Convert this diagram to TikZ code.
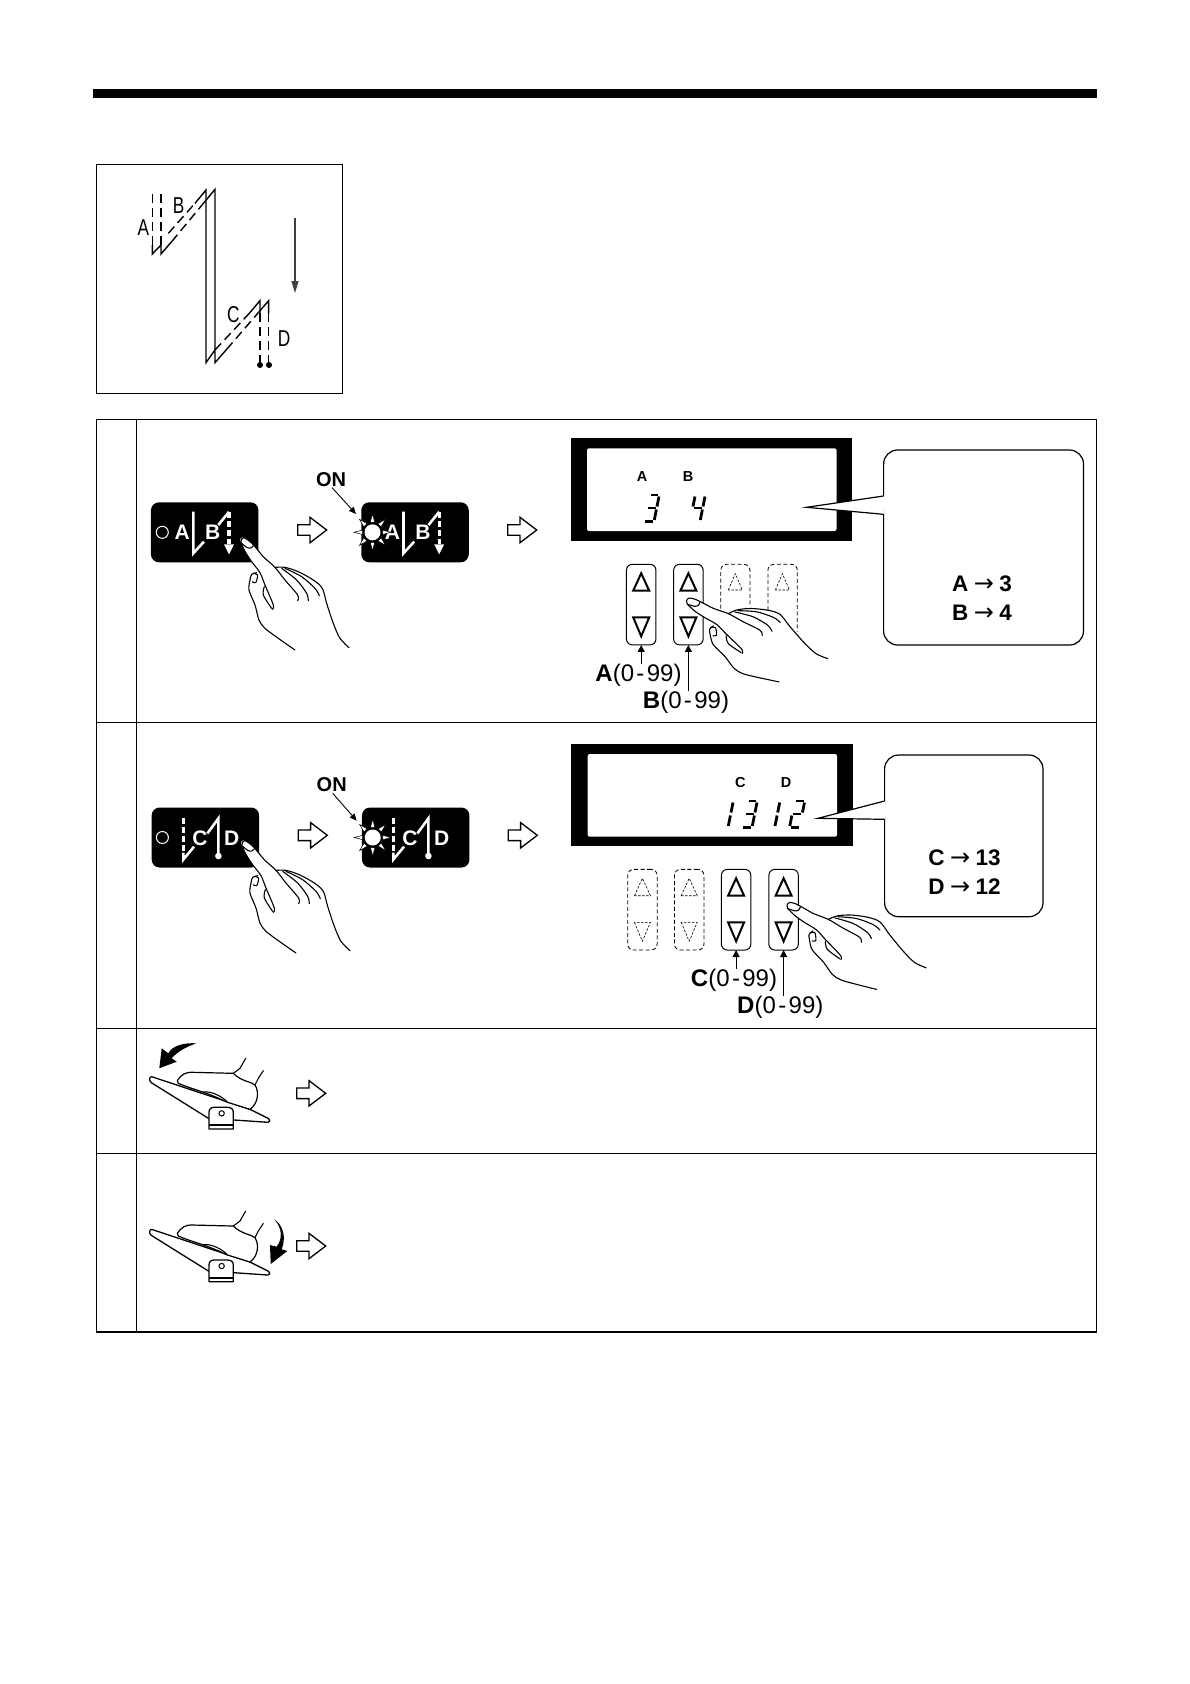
\documentclass[tikz,border=0pt]{standalone}
\usepackage{fontspec}
\setmainfont{Liberation Sans}
\newfontfamily\arrowfont{DejaVu Sans}
\usetikzlibrary{arrows.meta}
\tikzset{
  rule/.style={draw=black,line width=1.2pt},
  panel/.style={fill=black,draw=none,rounded corners=8pt,minimum width=107.5pt,minimum height=60pt,inner sep=0pt,outer sep=0pt},
  plet/.style={font=\bfseries\fontsize{21}{21}\selectfont,text=white,inner sep=0pt},
  wline/.style={draw=white,line width=2.6pt},
  wdash/.style={draw=white,line width=3.2pt,dash pattern=on 6pt off 3pt},
  onlab/.style={font=\bfseries\fontsize{20}{20}\selectfont,inner sep=0pt},
  btn/.style={draw=black,line width=1pt,rounded corners=6pt,minimum width=29.5pt,minimum height=80.7pt,inner sep=0pt,outer sep=0pt},
  dbtn/.style={btn,dash pattern=on 4pt off 2.5pt,line width=.8pt},
  tri/.style={draw=black,line width=2pt,line join=miter},
  dtri/.style={draw=black,line width=.6pt,dash pattern=on 2.5pt off 1.5pt},
  lead/.style={draw=black,line width=1pt,-{Triangle[length=7pt,width=7pt]}},
  rangelab/.style={font=\fontsize{24}{24}\selectfont,inner sep=0pt},
  mini/.style={font=\bfseries\fontsize{14.5}{14.5}\selectfont,inner sep=0pt},
  cal/.style={font=\fontsize{22.5}{22.5}\selectfont,inner sep=0pt},
  stlab/.style={font=\fontsize{23}{23}\selectfont,xscale=.75,transform shape,inner sep=0pt},
  seg/.style={line width=2.8pt},
  handl/.style={draw=black,line width=1.1pt,line cap=round,line join=round},
  opena/.style={draw=black,fill=white,line width=1.3pt,line join=miter},
  cout/.style={draw=black,fill=white,line width=1.2pt},
  stit/.style={draw=black,line width=1.4pt,line join=miter},
  stitd/.style={stit,dash pattern=on 9pt off 5pt},
}
\newcommand\calarrow{\hspace{.24em}{\arrowfont\fontsize{24}{24}\selectfont →}\hspace{.24em}}
\newcommand\openarrow[2]{\draw[opena,shift={(#1,#2)}] (0,-5.3) -- (12.3,-5.3) -- (12.3,-12.7) -- (29,0) -- (12.3,12.7) -- (12.3,5.3) -- (0,5.3) -- cycle;}
\newcommand\drawhand[3]{%
\begin{scope}[shift={(#1,#2)},rotate=#3,x=.3333pt,y=-.3333pt]
\begin{scope}[shift={(-18,-35)}]
\fill[white] plot[smooth cycle] coordinates {(22,22)(60,50)(120,112)(190,125)(262,175)(295,280)(342,353)(180,360)(90,295)(60,225)(42,180)(48,140)(65,128)(50,95)(18,38)};
\draw[handl] plot[smooth] coordinates {(18,38)(20,27)(30,23)(45,33)(60,50)(85,80)(120,112)(150,150)(188,195)(188,212)};
\draw[handl] plot[smooth] coordinates {(120,112)(150,112)(190,125)(235,150)(262,175)(275,220)(295,280)(315,325)(342,353)};
\draw[handl] plot[smooth] coordinates {(140,115)(185,150)(215,190)(220,212)};
\draw[handl] plot[smooth] coordinates {(150,115)(200,140)(240,175)(253,197)};
\draw[handl] plot[smooth] coordinates {(18,38)(30,65)(50,95)(75,128)(90,165)(115,225)(112,238)};
\draw[handl] plot[smooth] coordinates {(18,38)(35,52)(47,54)(55,47)};
\draw[handl] plot[smooth] coordinates {(65,128)(50,133)(45,150)(42,180)(60,225)(72,270)(90,295)(130,325)(180,360)};
\draw[handl] plot[smooth] coordinates {(88,170)(85,195)(110,235)};
\draw[handl] plot[smooth] coordinates {(55,130)(68,135)(62,158)(52,155)};
\end{scope}\end{scope}}
\newcommand\sunlamp[2]{%
\begin{scope}[shift={(#1,#2)}]
\foreach \a in {0,45,...,315}{
 \draw[black,fill=white,line width=.5pt,rotate=\a] (10,-2.2) -- (18.5,0) -- (10,2.2) -- cycle;}
\fill[white] (0,0) circle (8);
\end{scope}}
\newcommand\sA{\draw[seg] (2.2,1) -- (10,1);}
\newcommand\sB{\draw[seg] (11,2.5) -- (11,12.5);}
\newcommand\sC{\draw[seg] (11,15.5) -- (11,26);}
\newcommand\sD{\draw[seg] (2.2,27.2) -- (10,27.2);}
\newcommand\sE{\draw[seg] (1,15.5) -- (1,26);}
\newcommand\sF{\draw[seg] (1,2.5) -- (1,12.5);}
\newcommand\sG{\draw[seg] (2.2,14) -- (10,14);}
\newcommand\digitat[3]{\begin{scope}[shift={(#1,#2)},xslant=.2]#3\end{scope}}
\newcommand\abcontent[2]{%
\begin{scope}[shift={(#1,#2)}]
\draw[wline,line join=miter] (42.3,9.3) -- (42.3,51) -- (53,39.3);
\node[plet] at (31.3,30) {A};
\node[plet] at (61.7,30) {B};
\draw[wline,line cap=butt] (67.3,22.7) -- (78,9.5);
\draw[wdash] (78,9.5) -- (78,42);
\fill[white] (73,42) -- (83,42) -- (78,52) -- cycle;
\end{scope}}
\newcommand\cdcontent[2]{%
\begin{scope}[shift={(#1,#2)}]
\draw[wdash] (31.7,10.7) -- (31.7,45);
\draw[wline] (31.7,45) -- (31.7,51.7) -- (42.3,39);
\node[plet] at (48.3,31) {C};
\draw[wline,line join=miter] (55.7,25.7) -- (66.7,10.7) -- (66.7,48);
\fill[white] (66.7,48.3) circle (3.3);
\node[plet] at (80,31) {D};
\end{scope}}
\newcommand\bttri[3]{%
\draw[#3] (#1-8,#2+26.4) -- (#1,#2+9) -- (#1+8,#2+26.4) -- cycle;
\draw[#3] (#1-8,#2+53) -- (#1,#2+72) -- (#1+8,#2+53) -- cycle;}
\newcommand\pedal[2]{%
\begin{scope}[shift={(#1,#2)},x=.3333pt,y=-.3333pt]
\draw[handl,line width=1.3pt,fill=white] (35,110) -- (330,208) -- (386,236) .. controls (392,240) and (390,247) .. (384,247) -- (282,240) -- (207,236) -- (34,128) .. controls (26,122) and (28,110) .. (35,110) -- cycle;
\draw[handl,line width=1.2pt,fill=white] (112,122) .. controls (125,103) and (135,96) .. (160,97) -- (280,100) .. controls (305,125) and (335,125) .. (345,135) .. controls (358,155) and (355,190) .. (330,208) -- (260,186) .. controls (200,156) and (150,146) .. (115,130) -- cycle;
\draw[handl] (190,156) .. controls (215,152) and (250,172) .. (262,186);
\draw[handl] (280,100) -- (300,85) -- (317,55);
\draw[handl] (345,135) -- (355,115) -- (370,92);
\draw[handl,line width=1.3pt,fill=white] (207,267) -- (207,218) .. controls (207,208) and (212,202) .. (222,202) -- (262,202) .. controls (275,202) and (280,208) .. (280,218) -- (280,267) -- cycle;
\draw[black,line width=2pt] (208,256) -- (279,256);
\draw[black,line width=1pt,fill=white] (245,220) circle (8);
\end{scope}}
\begin{document}
\begin{tikzpicture}[x=1pt,y=-1pt]
\useasboundingbox (0,0) rectangle (1190,1684);
\fill[white] (0,0) rectangle (1190,1684);
\fill[black] (93.3,89.3) rectangle (1096.7,98.3);
\draw[rule] (96.7,164.7) rectangle (342.7,393.5);
\begin{scope}[shift={(80,150)},x=.3333pt,y=-.3333pt]
\draw[stitd] (217,132) -- (217,285);
\draw[stitd] (243,132) -- (243,285);
\draw[stit] (217,285) -- (217,312) -- (243,285) -- (243,312) -- (275,275);
\draw[stitd] (265,250) -- (345,160);
\draw[stitd] (275,275) -- (372,158);
\draw[stit] (345,160) -- (378,120) -- (378,638) -- (405,600) -- (405,638) -- (440,598);
\draw[stit] (372,158) -- (405,118) -- (405,600);
\draw[stitd] (405,600) -- (508,490);
\draw[stitd] (440,598) -- (535,488);
\draw[stit] (508,490) -- (540,452) -- (540,490);
\draw[stit] (535,488) -- (566,452) -- (566,490);
\draw[stitd] (540,490) -- (540,640);
\draw[stitd] (566,490) -- (566,640);
\fill[black] (540,645) circle (9);
\fill[black] (567,645) circle (9);
\end{scope}
\node[stlab] (sa) at (143.3,227.3) {A};
\node[stlab] (sb) at (178.7,205.7) {B};
\node[stlab] (sc) at (233.3,315) {C};
\node[stlab] (sd) at (284,338.7) {D};
\coordinate (fa) at (295,218);
\coordinate (fb) at (295,293);
\draw[black!75,line width=1.1pt,-{Triangle[length=12pt,width=7pt]}] (fa) -- (fb);
\draw[rule] (96.5,419.5) rectangle (1096.7,1332);
\draw[rule] (136.7,419.5) -- (136.7,1332);
\draw[rule] (96.5,722.3) -- (1096.7,722.3);
\draw[rule] (96.5,1028.3) -- (1096.7,1028.3);
\draw[rule] (96.5,1153.7) -- (1096.7,1153.7);
%% ROW 1
\node[panel] (p1) at (204.7,532.3) {};
\node[panel] (p2) at (415,532.3) {};
\draw[white,line width=1pt] (162.3,532.3) circle (6);
\abcontent{151}{502.3}
\abcontent{361.2}{502.3}
\sunlamp{372.5}{532.3}
\node[onlab] (on1) at (331,479.3) {ON};
\coordinate (on1t) at (356,514);
\draw[black,line width=.9pt,-{Triangle[length=7pt,width=6pt]}] (on1.south) ++(1,1) -- (on1t);
\openarrow{297.7}{530}
\openarrow{507.7}{530}
\drawhand{241}{541.7}{0}
\fill[black] (571,438.3) rectangle (852,540.7);
\fill[white,rounded corners=2pt] (587,448.3) rectangle (836.5,531);
\node[mini] at (642,477) {A};
\node[mini] at (688,477) {B};
\digitat{648.5}{494}{\sA\sB\sC\sD\sG}
\digitat{694.5}{494}{\sB\sC\sF\sG}
\draw[cout,rounded corners=14pt] (883.6,500) -- (883.6,450) -- (1083.5,450) -- (1083.5,645) -- (883.6,645) -- (883.6,510);
\fill[white] (806.5,507.3) -- (883.6,496) -- (884.4,496) -- (884.4,514.3) -- (883.6,514.3) -- cycle;
\draw[black,line width=1.2pt] (883.6,496) -- (806.5,507.3) -- (883.6,514.3);
\node[cal] at (982,584) {\textbf{A}\calarrow\textbf{3}};
\node[cal] at (982,612.7) {\textbf{B}\calarrow\textbf{4}};
\node[btn] (b1) at (641.2,604.6) {};
\node[btn] (b2) at (688.4,604.6) {};
\bttri{641.2}{564.3}{tri}
\bttri{688.4}{564.3}{tri}
\draw[dbtn,rounded corners=6pt] (720.8,615) -- (720.8,564.3) -- (749.9,564.3) -- (749.9,606.7);
\draw[dbtn,rounded corners=6pt] (767.9,610) -- (767.9,564.3) -- (797.3,564.3) -- (797.3,631.7);
\draw[dtri] (728.3,590) -- (735.3,573.7) -- (742.3,590) -- cycle;
\draw[dtri] (775.4,590) -- (782.4,573.7) -- (789.4,590) -- cycle;
\drawhand{687}{603.3}{23}
\node[rangelab] (la) at (638.5,675.3) {\textbf{A}(0\hspace{.1em}-\hspace{.1em}99)};
\node[rangelab] (lb) at (686,702) {\textbf{B}(0\hspace{.1em}-\hspace{.1em}99)};
\draw[lead] (b1.south |- la.north) -- (b1.south);
\draw[lead] (b2.south |- lb.north) -- (b2.south);
%% ROW 2
\node[panel] (p3) at (205.4,837.5) {};
\node[panel] (p4) at (415.7,837.5) {};
\draw[white,line width=1pt] (162.4,837.5) circle (6);
\cdcontent{151.7}{807.7}
\cdcontent{361.7}{807.7}
\sunlamp{372.7}{837.5}
\node[onlab] (on2) at (331.7,785) {ON};
\coordinate (on2t) at (356.7,820.7);
\draw[black,line width=.9pt,-{Triangle[length=7pt,width=6pt]}] (on2.south) ++(1,1) -- (on2t);
\openarrow{298.3}{835.3}
\openarrow{508.3}{835.3}
\drawhand{242}{844.7}{0}
\fill[black] (571.4,744.3) rectangle (852.7,846);
\fill[white,rounded corners=2pt] (587.7,754) rectangle (837,836.7);
\node[mini] at (740.3,782.3) {C};
\node[mini] at (786,782.3) {D};
\digitat{722.5}{800}{\sB\sC}
\digitat{746.5}{800}{\sA\sB\sC\sD\sG}
\digitat{769.2}{800}{\sB\sC}
\digitat{794}{800}{\sA\sB\sE\sD\sG}
\draw[cout,rounded corners=14pt] (884.6,805) -- (884.6,755) -- (1043,755) -- (1043,916.7) -- (884.6,916.7) -- (884.6,815);
\fill[white] (818,818.3) -- (884.6,801) -- (885.4,801) -- (885.4,819.3) -- (884.6,819.3) -- cycle;
\draw[black,line width=1.2pt] (884.6,801) -- (818,818.3) -- (884.6,819.3);
\node[cal] at (964.5,857.7) {\textbf{C}\calarrow\textbf{13}};
\node[cal] at (964.5,886.7) {\textbf{D}\calarrow\textbf{12}};
\node[dbtn] (b3) at (642.4,909.7) {};
\node[dbtn] (b4) at (689.2,909.7) {};
\node[btn] (b5) at (736.1,909.7) {};
\node[btn] (b6) at (783.6,909.7) {};
\bttri{642.4}{869.3}{dtri}
\bttri{689.2}{869.3}{dtri}
\bttri{736.1}{869.3}{tri}
\bttri{783.6}{869.3}{tri}
\drawhand{787.4}{907.6}{21}
\node[rangelab] (lc) at (734,980.3) {\textbf{C}(0\hspace{.1em}-\hspace{.1em}99)};
\node[rangelab] (ld) at (780.3,1007.7) {\textbf{D}(0\hspace{.1em}-\hspace{.1em}99)};
\draw[lead] (b5.south |- lc.north) -- (b5.south);
\draw[lead] (b6.south |- ld.north) -- (b6.south);
%% ROW 3
\pedal{140}{1040}
\fill[black] (196.7,1043.3) .. controls (183,1042.5) and (172,1046) .. (168.3,1053.3) -- (161.7,1048.3) -- (159.3,1068.3) -- (176.7,1061.7) -- (171.7,1058.3) .. controls (178,1051) and (188,1046) .. (196.7,1043.3) -- cycle;
\openarrow{296.7}{1093.3}
%% ROW 4
\pedal{140}{1192.7}
\fill[black] (274.3,1219.3) .. controls (282,1228) and (283,1238) .. (276.7,1246.7) -- (270,1245) -- (270.7,1264) -- (287.3,1251) -- (281.7,1249.3) .. controls (286,1238) and (284,1226) .. (274.3,1219.3) -- cycle;
\openarrow{296.7}{1246}
\end{tikzpicture}
\end{document}
